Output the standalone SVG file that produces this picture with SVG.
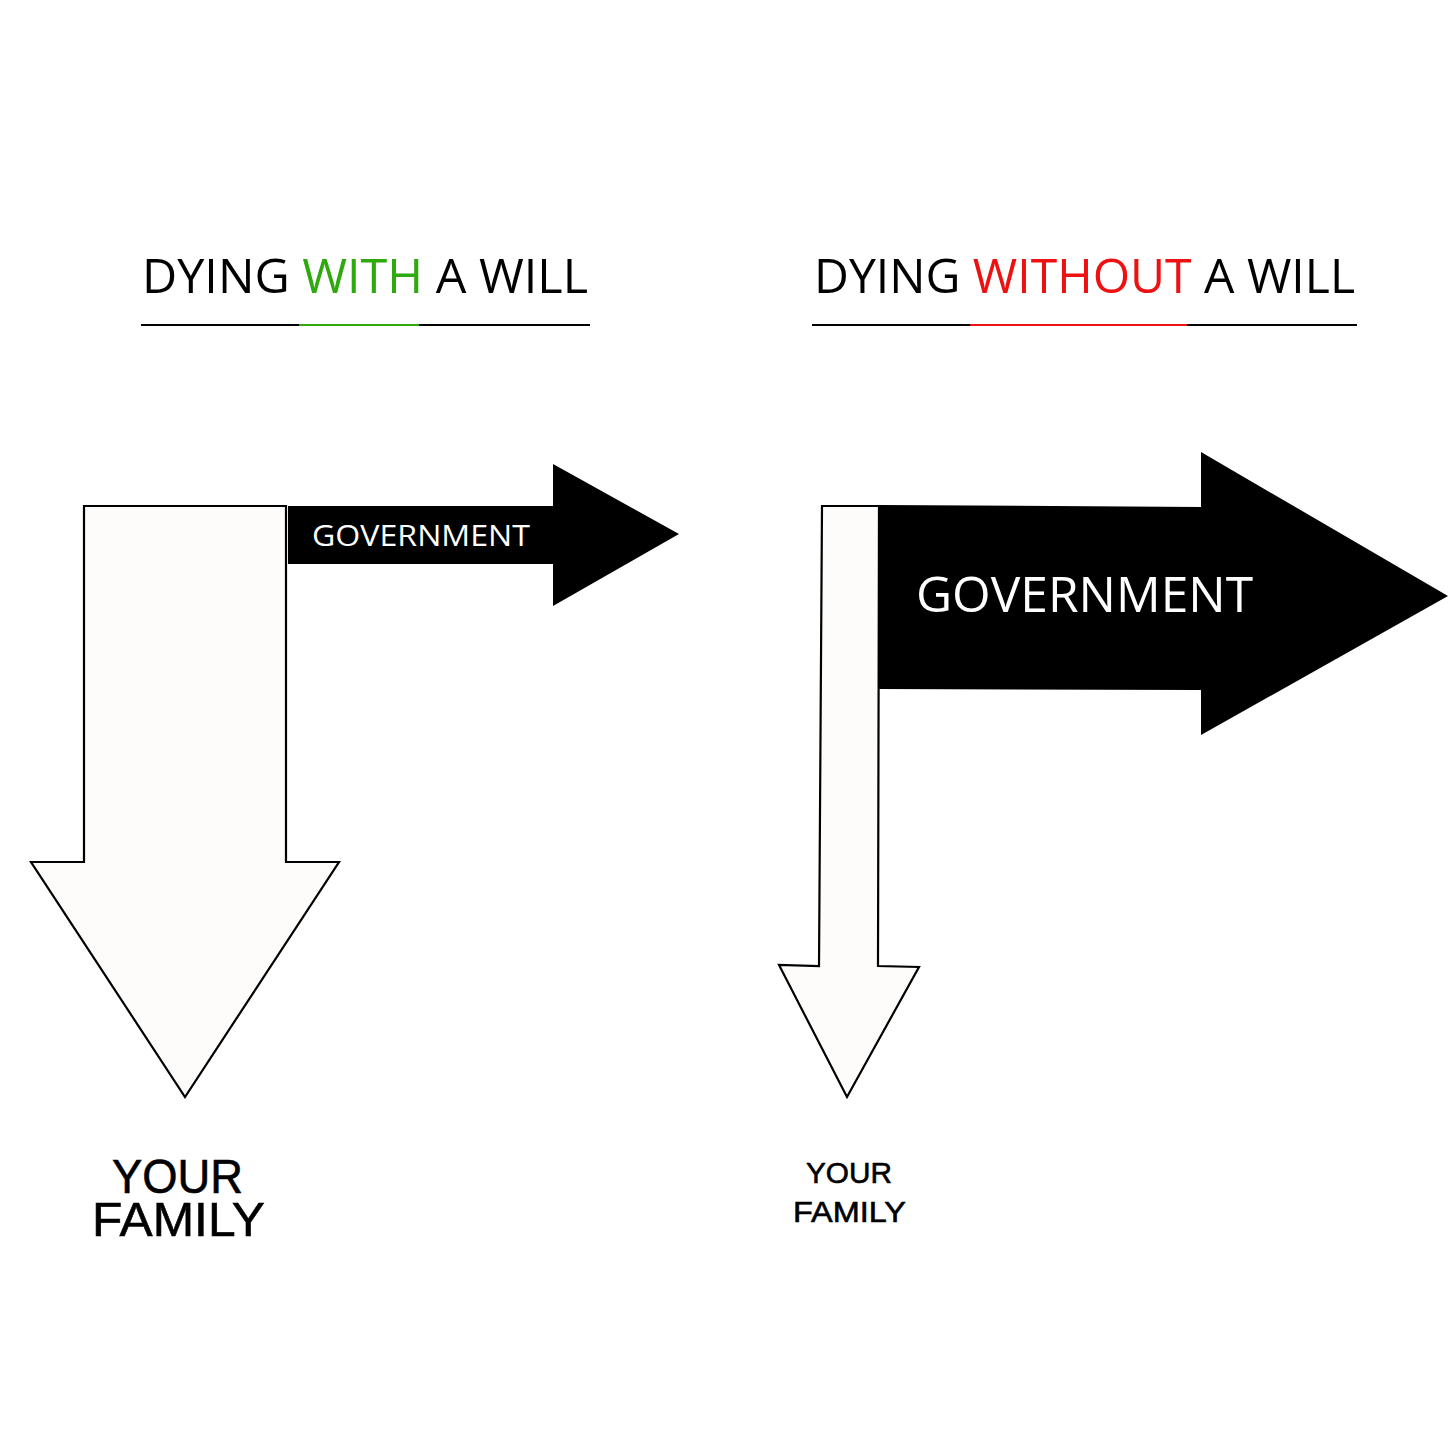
<svg xmlns="http://www.w3.org/2000/svg" width="1456" height="1456" viewBox="0 0 1456 1456">
<style>
.h{font-family:"Open Sans","Noto Sans",sans-serif;font-size:48px;fill:#000}
.gov{font-family:"Open Sans","Noto Sans",sans-serif;fill:#fff}
.fam{font-family:"Liberation Sans",Arial,sans-serif;fill:#000;stroke:#000;stroke-width:0.6}
.wa{fill:#fdfcfb;stroke:#000;stroke-width:2.2;stroke-linejoin:miter}
.ba{fill:#000}
</style>
<rect width="1456" height="1456" fill="#fff"/>
<g id="heading-with">
<text class="h" x="142" y="293" textLength="446" lengthAdjust="spacingAndGlyphs">DYING <tspan fill="#2eaa0e">WITH</tspan> A WILL</text>
<line x1="141" y1="325" x2="590" y2="325" stroke="#000" stroke-width="2"/>
<line x1="299" y1="325" x2="419" y2="325" stroke="#2eaa0e" stroke-width="2"/>
</g>
<g id="heading-without">
<text class="h" x="814" y="293" textLength="541" lengthAdjust="spacingAndGlyphs">DYING <tspan fill="#ee1111">WITHOUT</tspan> A WILL</text>
<line x1="812" y1="325" x2="1357" y2="325" stroke="#000" stroke-width="2"/>
<line x1="970" y1="325" x2="1187" y2="325" stroke="#ee1111" stroke-width="2"/>
</g>
<g id="left-family-arrow">
<polygon class="wa" points="84,506 286,506 286,862 339,862 185,1097 31,862 84,862"/>
</g>
<g id="left-government-arrow">
<polygon class="ba" points="288,506 553,506 553,464 679,534 553,606 553,564 288,564"/>
<text class="gov" x="312" y="546" font-size="29" textLength="218" lengthAdjust="spacingAndGlyphs">GOVERNMENT</text>
</g>
<g id="right-family-arrow">
<polygon class="wa" points="822,506 879,506 878,966 919,967 847,1097 779,965 819,966"/>
</g>
<g id="right-government-arrow">
<polygon class="ba" points="879,505 1201,507 1201,452 1448,596 1201,735 1201,690 879,689"/>
<text class="gov" x="916" y="612" font-size="50" textLength="337" lengthAdjust="spacingAndGlyphs">GOVERNMENT</text>
</g>
<g id="left-family-label">
<text class="fam" font-size="48"><tspan x="112" y="1193" textLength="131" lengthAdjust="spacingAndGlyphs">YOUR</tspan><tspan x="92" y="1236" textLength="173" lengthAdjust="spacingAndGlyphs">FAMILY</tspan></text>
</g>
<g id="right-family-label">
<text class="fam" font-size="30"><tspan x="806" y="1183" textLength="86" lengthAdjust="spacingAndGlyphs">YOUR</tspan><tspan x="793" y="1222" textLength="113" lengthAdjust="spacingAndGlyphs">FAMILY</tspan></text>
</g>
</svg>
